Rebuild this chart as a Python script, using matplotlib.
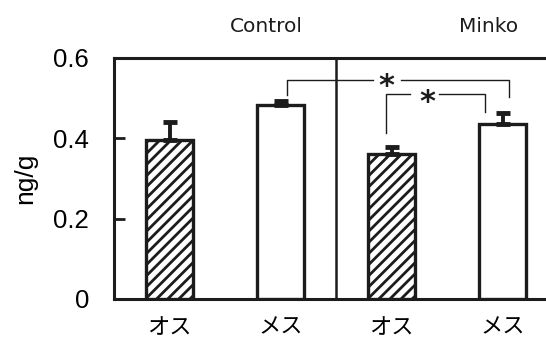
import matplotlib
matplotlib.use("Agg")
import matplotlib.pyplot as plt
import matplotlib.transforms as mtransforms

# Data
categories = ["オス", "メス", "オス", "メス"]
groups = ["Control", "Minko"]
values = [0.395, 0.482, 0.36, 0.435]
errors = [0.045, 0.010, 0.019, 0.028]
hatched = [True, False, True, False]
yticks = [0, 0.2, 0.4, 0.6]
ytick_labels = ["0", "0.2", "0.4", "0.6"]

plt.rcParams["hatch.linewidth"] = 2.0
ink = "#1c1c1c"

fig = plt.figure(figsize=(5.46, 3.41), dpi=100)
ax = fig.add_axes([114 / 546, 42 / 341, 444 / 546, 241.3 / 341])

xs = list(range(len(values)))
for xi, v, h in zip(xs, values, hatched):
    ax.bar(xi, v, width=0.42, color="white", edgecolor=ink, linewidth=2.4,
           hatch="///" if h else None, zorder=3)

ax.errorbar(xs, values, yerr=[[0] * len(errors), errors], fmt="none",
            ecolor=ink, elinewidth=2.8, capsize=5, capthick=3.5, zorder=4)

# group divider
ax.axvline(1.5, color=ink, lw=1.8, zorder=2)

# significance brackets
lw_b = 1.0
ax.plot([1.056, 1.056, 1.833], [0.507, 0.545, 0.545], color=ink, lw=lw_b)
ax.plot([2.083, 3.06, 3.06], [0.545, 0.545, 0.503], color=ink, lw=lw_b)
ax.text(1.95, 0.528, "*", fontsize=22, fontweight="bold", ha="center",
        va="center", color=ink)
ax.plot([1.95, 1.95, 2.167], [0.413, 0.51, 0.51], color=ink, lw=lw_b)
ax.plot([2.43, 2.84, 2.84], [0.51, 0.51, 0.466], color=ink, lw=lw_b)
ax.text(2.32, 0.488, "*", fontsize=22, fontweight="bold", ha="center",
        va="center", color=ink)

ax.set_xlim(-0.5, 3.5)
ax.set_ylim(0, 0.6)

ax.set_yticks(yticks, ytick_labels, fontfamily="Liberation Sans")
ax.tick_params(axis="y", direction="in", length=8, width=2, pad=18,
               labelsize=18.5, color=ink)
ax.set_xticks(xs, categories, fontfamily="Noto Sans CJK JP")
ax.tick_params(axis="x", length=0, pad=12, labelsize=16)

for s in ax.spines.values():
    s.set_linewidth(2.2)
    s.set_color(ink)

ax.set_ylabel("ng/g", fontfamily="Liberation Sans", fontsize=19, va="center")
ax.yaxis.set_label_coords(-0.2, 0.5)

trans = mtransforms.blended_transform_factory(ax.transData, ax.transAxes)
for gx, g in zip([0.874, 2.87], groups):
    ax.text(gx, 1.131, g, transform=trans, ha="center", va="center",
            fontsize=14.5, color=ink)

fig.savefig("out.png", dpi=100)
